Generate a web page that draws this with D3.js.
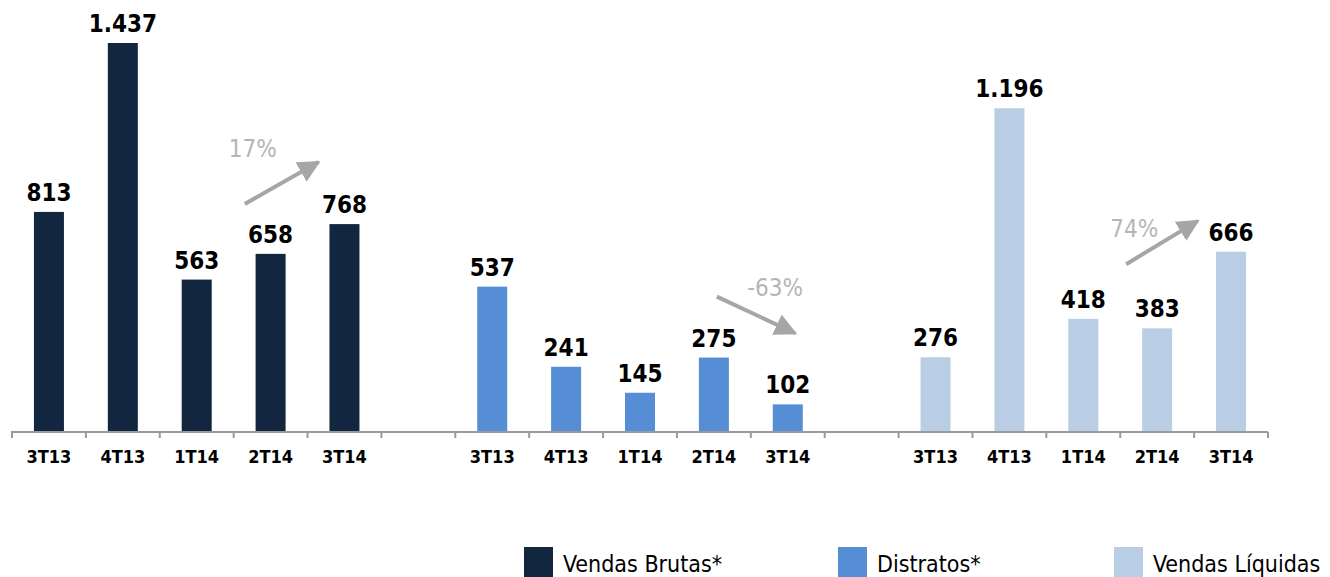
<!DOCTYPE html>
<html><head><meta charset="utf-8">
<script src="https://cdn.jsdelivr.net/npm/d3@7"></script>
<style>
body{margin:0;background:#fff;}
svg{display:block;}
.cond{font-family:"DejaVu Sans Condensed","DejaVu Sans",sans-serif;font-stretch:condensed;}
</style>
</head><body>
<svg id="chart" width="1330" height="577"></svg>
<script>
const quarters = ["3T13","4T13","1T14","2T14","3T14"];
const seriesNames = ["Vendas Brutas*","Distratos*","Vendas Líquidas"];
const vendasBrutas = [813,1437,563,658,768];
const distratos = [537,241,145,275,102];
const vendasLiquidas = [276,1196,418,383,666];
const valueLabels = [
  ["813","1.437","563","658","768"],
  ["537","241","145","275","102"],
  ["276","1.196","418","383","666"]
];
const colors = ["#13263F","#558ED5","#B9CDE5"];
const growthLabels = ["17%","-63%","74%"];

const svg = d3.select("#chart");
const nSlots = 17;
const x = d3.scaleLinear().domain([0, nSlots]).range([12, 1268]);
const y = d3.scaleLinear().domain([0, 1437]).range([432, 43]);
const barW = 30;

const groups = [vendasBrutas, distratos, vendasLiquidas];
const data = [];
groups.forEach((vals, g) => vals.forEach((v, i) => {
  data.push({g, i, v, slot: g*6 + i, q: quarters[i], label: valueLabels[g][i]});
}));

// bars
svg.append("g").selectAll("rect").data(data).join("rect")
  .attr("x", d => x(d.slot + 0.5) - barW/2)
  .attr("y", d => y(d.v))
  .attr("width", barW)
  .attr("height", d => y(0) - y(d.v))
  .attr("fill", d => colors[d.g]);

// value labels
svg.append("g").selectAll("text").data(data).join("text")
  .attr("class","cond")
  .attr("x", d => x(d.slot + 0.5))
  .attr("y", d => y(d.v) - 11)
  .attr("text-anchor","middle")
  .attr("font-size", 24)
  .attr("font-weight","bold")
  .attr("fill","#000")
  .text(d => d.label);

// axis
const axisG = svg.append("g");
axisG.append("line").attr("x1", x(0)-1).attr("x2", x(nSlots)).attr("y1", y(0)).attr("y2", y(0))
  .attr("stroke","#9a9a9a").attr("stroke-width",2);
axisG.selectAll("line.tick").data(d3.range(nSlots+1)).join("line").attr("class","tick")
  .attr("x1", d => x(d)).attr("x2", d => x(d))
  .attr("y1", y(0)).attr("y2", y(0)+6)
  .attr("stroke","#9a9a9a").attr("stroke-width",2);
axisG.selectAll("text").data(data).join("text")
  .attr("class","cond")
  .attr("x", d => x(d.slot + 0.5))
  .attr("y", 463)
  .attr("text-anchor","middle")
  .attr("font-size", 18)
  .attr("font-weight","bold")
  .attr("fill","#000")
  .text(d => d.q);

// growth arrows (positions in slot / value units)
const arrows = [
  {x1: 3.15, v1: 842, x2: 4.15, v2: 997, lx: 3.26, lv: 1016, t: growthLabels[0]},
  {x1: 9.54, v1: 500, x2: 10.60, v2: 365, lx: 10.33, lv: 502, t: growthLabels[1]},
  {x1: 15.08, v1: 620, x2: 16.05, v2: 780, lx: 15.19, lv: 720, t: growthLabels[2]}
];
const defs = svg.append("defs");
defs.append("marker").attr("id","ah").attr("viewBox","0 0 10 10")
  .attr("refX",9).attr("refY",5).attr("markerWidth",5.6).attr("markerHeight",5.6)
  .attr("markerUnits","strokeWidth").attr("orient","auto")
  .append("path").attr("d","M0,0 L10,5 L0,10 Z").attr("fill","#a6a6a6");
svg.append("g").selectAll("line").data(arrows).join("line")
  .attr("x1", d => x(d.x1)).attr("y1", d => y(d.v1))
  .attr("x2", d => x(d.x2)).attr("y2", d => y(d.v2))
  .attr("stroke","#a6a6a6").attr("stroke-width",4)
  .attr("marker-end","url(#ah)");
svg.append("g").selectAll("text").data(arrows).join("text")
  .attr("class","cond")
  .attr("x", d => x(d.lx)).attr("y", d => y(d.lv))
  .attr("text-anchor","middle")
  .attr("font-size", 24)
  .attr("fill","#b5b5b5")
  .text(d => d.t);

// legend
const legendX = [524, 838, 1114];
const lg = svg.append("g").selectAll("g").data(seriesNames).join("g")
  .attr("transform", (d,i) => `translate(${legendX[i]},547)`);
lg.append("rect").attr("width",29).attr("height",30).attr("fill",(d,i)=>colors[i]);
lg.append("text").attr("class","cond").attr("x",39).attr("y",25)
  .attr("font-size",23).attr("fill","#000").text(d=>d);
</script>
</body></html>
